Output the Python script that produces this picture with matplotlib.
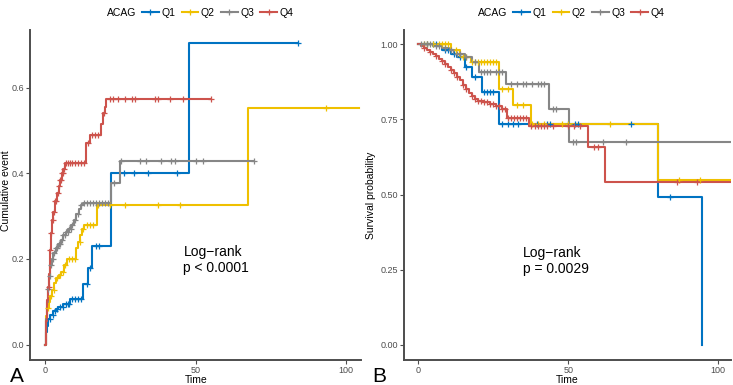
import numpy as np
import matplotlib
matplotlib.use("Agg")
import matplotlib.pyplot as plt
from matplotlib.lines import Line2D

plt.rcParams['font.family'] = ['Liberation Sans', 'DejaVu Sans']

groups = ['Q1', 'Q2', 'Q3', 'Q4']
colors = ['#0073C2', '#EFC000', '#868686', '#CD534C']

# ---- panel A : cumulative event ----
a_t = {
  'Q1': [0, 0.3, 0.6, 1.1, 1.8, 2.75, 3.5, 4.4, 6.1, 8.3, 12.7, 14.3, 15.6, 22.0, 48.0],
  'Q2': [0, 0.3, 0.8, 1.3, 1.8, 2.4, 3.1, 3.8, 4.6, 5.3, 6.2, 7.2, 10.4, 11.0, 11.6, 12.3, 13.0, 17.2, 67.3],
  'Q3': [0, 0.2, 0.5, 0.9, 1.3, 1.7, 2.2, 2.8, 3.5, 4.3, 5.2, 6.0, 6.8, 7.7, 8.6, 9.5, 10.4, 11.3, 12.0, 12.6, 22.0, 24.8],
  'Q4': [0, 0.2, 0.4, 0.6, 0.8, 1.0, 1.3, 1.6, 2.0, 2.4, 2.8, 3.3, 3.9, 4.5, 5.0, 5.6, 6.1, 6.6, 13.6, 14.8, 18.5, 19.2, 19.8, 20.4],
}
a_y = {
  'Q1': [0, 0.03, 0.044, 0.06, 0.07, 0.079, 0.083, 0.087, 0.095, 0.106, 0.141, 0.18, 0.23, 0.401, 0.704],
  'Q2': [0, 0.067, 0.085, 0.1, 0.114, 0.128, 0.145, 0.155, 0.162, 0.17, 0.185, 0.2, 0.225, 0.24, 0.255, 0.27, 0.28, 0.326, 0.552],
  'Q3': [0, 0.06, 0.1, 0.13, 0.16, 0.185, 0.2, 0.215, 0.225, 0.235, 0.245, 0.255, 0.262, 0.27, 0.28, 0.292, 0.305, 0.316, 0.325, 0.331, 0.378, 0.43],
  'Q4': [0, 0.03, 0.055, 0.08, 0.105, 0.135, 0.165, 0.22, 0.26, 0.29, 0.31, 0.335, 0.355, 0.37, 0.385, 0.40, 0.41, 0.424, 0.47, 0.49, 0.515, 0.54, 0.555, 0.574],
}
a_end = {'Q1': 83.9, 'Q2': 104.5, 'Q3': 69.5, 'Q4': 55.3}
a_cens = {
  'Q1': [1.5, 2.5, 3.2, 4, 5, 6, 7, 7.5, 8, 9, 10, 11, 12, 14, 14.8, 17, 18, 26.1, 29.4, 34.3, 44, 83.9],
  'Q2': [1, 2, 3, 4, 5, 6, 6.5, 8, 9, 10, 11.5, 12.5, 14, 15, 16, 17.6, 21.6, 26.7, 37.4, 45, 93.3],
  'Q3': [1, 1.5, 2, 2.5, 3, 3.5, 4, 4.5, 5, 5.5, 6, 6.5, 7, 7.5, 8, 8.5, 9, 10, 11, 12, 13, 14, 15, 16, 17,
         18, 19, 20, 21, 23, 25.4, 31.5, 33.7, 38.7, 42, 43.2, 50.3, 52.5, 69.5],
  'Q4': [1.2, 1.6, 2.0, 2.5, 3.0, 3.4, 3.8, 4.2, 4.6, 5.0, 5.3, 5.7, 6.0, 6.4, 7.0, 7.5, 8.2, 9, 10, 11, 12,
         12.8, 14.2, 15.5, 16.5, 17.5, 19.5, 21.5, 22.5, 24.2, 26.5, 28.8, 29.8, 36.4, 37.4, 41.4, 45.7, 55.3],
}

# ---- panel B : survival probability ----
b_t = {
  'Q1': [0, 8, 11, 13, 15.7, 17.9, 21.3, 26.9, 80.1, 94.6],
  'Q2': [0, 11, 14, 17.4, 26.9, 31.4, 37.5, 80.1],
  'Q3': [0, 5, 8, 10.1, 12, 15.7, 17.9, 20.2, 29.1, 43.7, 50.4],
  'Q4': [0, 1, 2, 3, 4, 5, 6, 7, 8, 9, 10, 11, 12, 13, 14, 15, 16, 17, 18, 19, 20, 22, 24, 26, 28, 29.5, 37, 56.6, 62.1],
}
b_y = {
  'Q1': [1, 0.979, 0.968, 0.957, 0.924, 0.89, 0.841, 0.736, 0.491, 0.0],
  'Q2': [1, 0.979, 0.957, 0.94, 0.852, 0.797, 0.736, 0.55],
  'Q3': [1, 0.993, 0.986, 0.979, 0.968, 0.957, 0.94, 0.907, 0.869, 0.786, 0.675],
  'Q4': [1, 0.993, 0.987, 0.981, 0.975, 0.968, 0.96, 0.952, 0.943, 0.934, 0.925, 0.915, 0.903, 0.892, 0.88,
         0.865, 0.85, 0.838, 0.828, 0.818, 0.812, 0.806, 0.8, 0.793, 0.785, 0.753, 0.727, 0.658, 0.542],
}
b_end = {'Q1': 94.6, 'Q2': 104.3, 'Q3': 104.3, 'Q4': 104.3}
b_cens = {
  'Q1': [3, 5, 6, 9, 10, 12, 14, 16, 19, 22, 23, 24, 25, 28, 30, 31.7, 33.4, 39.6, 43, 44, 50, 52.4, 53.4, 70.8, 84],
  'Q2': [2, 3, 5, 7, 8, 9, 10, 12.5, 15, 16, 18, 19, 20, 21, 22, 23, 24, 25, 26, 28, 30, 33, 35, 38, 40, 42,
         48, 50, 63.8, 86.8, 94],
  'Q3': [1, 2, 3, 4, 6, 7, 9, 11, 13, 14, 16, 19, 21, 22, 23, 24, 26, 27, 28, 31, 33, 35, 36, 38, 40, 41, 42,
         44.8, 45.9, 51.5, 52.6, 61.6, 69.4],
  'Q4': [2, 4, 6, 8, 9, 11, 12, 13, 15, 16, 18, 19, 20, 21, 22, 23, 24, 25, 26, 27, 28, 29, 30, 31, 32, 33,
         34, 35, 36, 37.5, 39, 40, 41, 42, 43, 45, 50, 52, 54, 58.6, 59.9, 86.2, 92.9],
}


def draw_km(ax, tt, yy, ends, cens):
  for g, c in zip(groups, colors):
    t = np.array(tt[g] + [ends[g]])
    y = np.array(yy[g] + [yy[g][-1]])
    ax.step(t, y, where='post', color=c, lw=1.5, zorder=2)
    ct = np.array(cens[g])
    idx = np.searchsorted(np.array(tt[g]), ct, side='right') - 1
    cy = np.array(yy[g])[idx]
    ax.plot(ct, cy, ls='none', marker='+', ms=5, mew=0.9, color=c, zorder=3)


def style(ax):
  for s in ['top', 'right']:
    ax.spines[s].set_visible(False)
  for s in ['left', 'bottom']:
    ax.spines[s].set_color('#4D4D4D')
    ax.spines[s].set_linewidth(1.4)
  ax.tick_params(colors='#4D4D4D', labelcolor='#4D4D4D', labelsize=6.5, length=3, width=0.8, pad=1.5)
  ax.set_xticks([0, 50, 100])


fig = plt.figure(figsize=(7.33, 3.85), dpi=100)
axA = fig.add_axes([30 / 733, 25 / 385, 331 / 733, 330 / 385])
axB = fig.add_axes([404 / 733, 25 / 385, 327 / 733, 330 / 385])

draw_km(axA, a_t, a_y, a_end, a_cens)
style(axA)
axA.set_xlim(-5, 105)
axA.set_ylim(-0.036, 0.735)
axA.set_yticks([0.0, 0.2, 0.4, 0.6])
axA.set_yticklabels(['0.0', '0.2', '0.4', '0.6'])
axA.text(46, 0.197, 'Log\u2212rank\np < 0.0001', fontsize=10, va='center', ha='left')

draw_km(axB, b_t, b_y, b_end, b_cens)
style(axB)
axB.set_xlim(-4.8, 104.3)
axB.set_ylim(-0.05, 1.047)
axB.set_yticks([0.0, 0.25, 0.5, 0.75, 1.0])
axB.set_yticklabels(['0.00', '0.25', '0.50', '0.75', '1.00'])
axB.text(35, 0.28, 'Log\u2212rank\np = 0.0029', fontsize=10, va='center', ha='left')

# axis titles placed by hand so they stay inside the canvas
fig.text(196 / 733, 0, 'Time', fontsize=7.5, ha='center', va='bottom')
fig.text(567 / 733, 0, 'Time', fontsize=7.5, ha='center', va='bottom')
fig.text(1 / 733, 194 / 385, 'Cumulative event', fontsize=7.5, rotation=90, ha='left', va='center')
fig.text(366 / 733, 190 / 385, 'Survival probability', fontsize=7.5, rotation=90, ha='left', va='center')

handles = [Line2D([], [], color=c, lw=1.5, marker='+', ms=5, mew=0.9) for c in colors]
for x0 in [107, 478]:
  fig.text(x0 / 733, 1 - 13 / 385, 'ACAG', fontsize=7.5, va='center', ha='left')
  fig.legend(handles, groups, loc='center left', bbox_to_anchor=((x0 + 35) / 733, 1 - 13 / 385),
             ncol=4, frameon=False, fontsize=7.5, handlelength=1.6, handletextpad=0.25,
             columnspacing=0.6, borderaxespad=0, borderpad=0)

fig.text(10 / 733, 9 / 385, 'A', fontsize=15, va='center', ha='left')
fig.text(372 / 733, 9 / 385, 'B', fontsize=15, va='center', ha='left')

fig.savefig('out.png', dpi=100)
